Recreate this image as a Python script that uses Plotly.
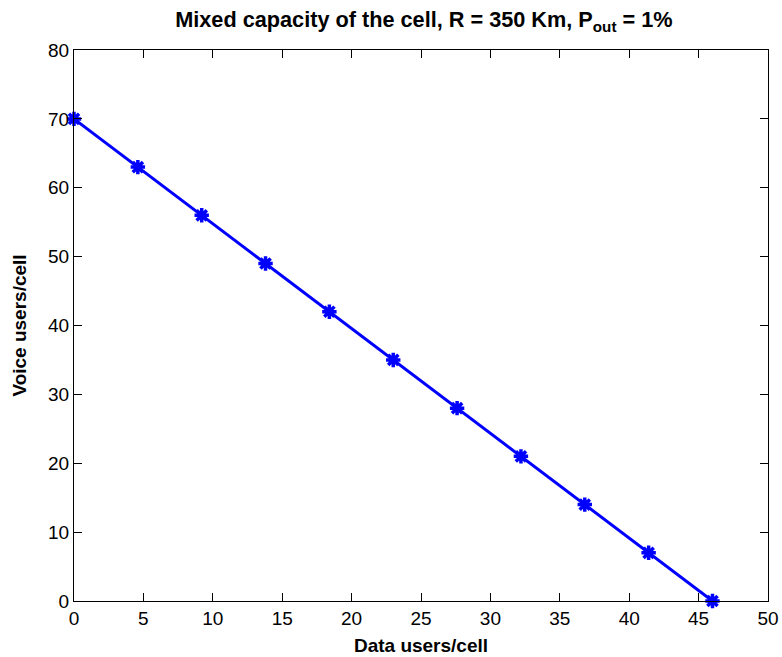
import plotly.graph_objects as go

data_users = [0, 4.6, 9.2, 13.8, 18.4, 23.0, 27.6, 32.2, 36.8, 41.4, 46.0]
voice_users = [70, 63, 56, 49, 42, 35, 28, 21, 14, 7, 0]
x_ticks = [0, 5, 10, 15, 20, 25, 30, 35, 40, 45, 50]
y_ticks = [0, 10, 20, 30, 40, 50, 60, 70, 80]

fig = go.Figure()
fig.add_trace(go.Scatter(
    x=data_users, y=voice_users, mode="lines+markers",
    line=dict(color="#0000ff", width=3),
    marker=dict(symbol="asterisk-open", size=12, color="#0000ff",
                line=dict(color="#0000ff", width=3.5)),
    cliponaxis=False, showlegend=False,
))

font = "Liberation Sans, Arial, sans-serif"
axis_common = dict(
    automargin=False,
    showgrid=False, zeroline=False, showline=True, linecolor="black", linewidth=1,
    mirror="ticks", ticks="inside", ticklen=8, tickcolor="black",
    tickfont=dict(family=font, size=19, color="black"),
)
fig.update_layout(
    width=782, height=657,
    paper_bgcolor="white", plot_bgcolor="white",
    margin=dict(l=73.5, r=14, t=49.5, b=56.3),
    title=dict(text="<b>Mixed capacity of the cell, R = 350 Km, P<sub>out</sub> = 1%</b>",
               x=0.542, xanchor="center", y=0.97, yanchor="middle",
               font=dict(family=font, size=21.7, color="black")),
    xaxis=dict(range=[0, 50], tickvals=x_ticks,
               title=dict(text="<b>Data users/cell</b>", standoff=10,
                          font=dict(family=font, size=19, color="black")),
               **axis_common),
    yaxis=dict(range=[0, 80], tickvals=y_ticks,
               title=dict(text="<b>Voice users/cell</b>", standoff=16,
                          font=dict(family=font, size=19, color="black")),
               **axis_common),
)
fig.write_html("out.html",
               config={"displayModeBar": False},
               post_script="document.body.style.margin='0';document.body.style.overflow='hidden';")
